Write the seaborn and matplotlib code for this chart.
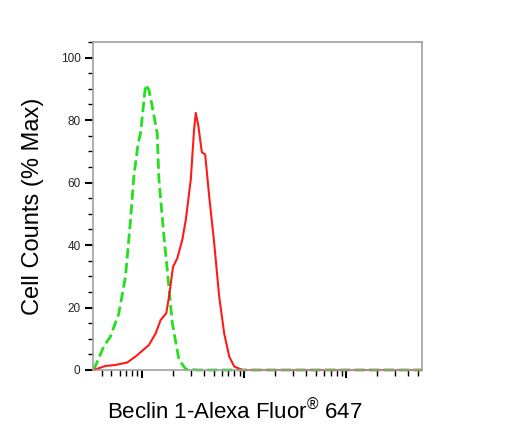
import matplotlib
matplotlib.use("Agg")
import numpy as np
import pandas as pd
import matplotlib.pyplot as plt
import seaborn as sns
from matplotlib.ticker import LogLocator, NullFormatter, MultipleLocator

# Control (isotype) histogram, green dashed
control_x = [335, 420, 489, 590, 687, 769, 829, 914, 964, 1080, 1164, 1254,
             1403, 1459, 1634, 1762, 1973, 2296, 2673, 3500, 550000]
control_y = [0, 7.5, 10.7, 18, 30, 48, 62, 72.6, 75.8, 91.3, 89.7, 84.4,
             75.8, 61, 42.7, 32, 15, 3.2, 0.3, 0, 0]

# Beclin 1 stained sample, red solid
sample_x = [335, 437, 547, 713, 861, 1039, 1164, 1355, 1517, 1722, 1832, 2005,
            2209, 2473, 2673, 2994, 3223, 3350, 3556, 3838, 4141, 4532, 5074,
            5680, 6358, 7121, 7976, 9620, 550000]
sample_y = [0, 1.3, 1.6, 2.4, 4.3, 6.6, 8, 11.7, 16, 18.2, 23.5, 33,
            35.8, 41.7, 48, 61, 77, 82.3, 78, 69.7, 69, 55.6, 40.6,
            23.5, 11.7, 4.3, 1.1, 0, 0]

control = pd.DataFrame({"x": control_x, "y": control_y})
sample = pd.DataFrame({"x": sample_x, "y": sample_y})

sns.set_theme(style="white")
plt.rcParams["font.family"] = ["Liberation Sans", "DejaVu Sans"]
plt.rcParams["mathtext.fontset"] = "custom"
plt.rcParams["mathtext.rm"] = "Liberation Sans"

fig = plt.figure(figsize=(5.2, 4.43), dpi=100)
ax = fig.add_axes([93 / 520, 73 / 443, 329 / 520, 328 / 443])

sns.lineplot(data=control, x="x", y="y", ax=ax, color="#22e01e", lw=2.0,
             linestyle="--", dashes=(5, 2.6), clip_on=False, sort=False)
sns.lineplot(data=sample, x="x", y="y", ax=ax, color="#ff1a1a", lw=1.5,
             clip_on=False, sort=False)

ax.set_xscale("log")
ax.set_xlim(330, 550000)
ax.set_ylim(0, 105)

ax.xaxis.set_major_locator(LogLocator(base=10, numticks=10))
ax.xaxis.set_minor_locator(LogLocator(base=10, subs=np.arange(2, 10), numticks=20))
ax.xaxis.set_major_formatter(NullFormatter())
ax.xaxis.set_minor_formatter(NullFormatter())
ax.yaxis.set_major_locator(MultipleLocator(20))
ax.yaxis.set_minor_locator(MultipleLocator(5))

ax.tick_params(axis="both", which="major", direction="out", length=6,
               width=1.5, color="black", labelsize=8.5, pad=3,
               bottom=True, left=True)
ax.tick_params(axis="both", which="minor", direction="out", length=3.5,
               width=1.0, color="black", bottom=True, left=True)
ax.tick_params(axis="x", which="minor", length=4)

for side in ["top", "right", "left", "bottom"]:
    ax.spines[side].set_visible(True)
    ax.spines[side].set_color("#a0a0a0")
    ax.spines[side].set_linewidth(1.2)

ax.set_ylabel("Cell Counts (% Max)", fontsize=17, color="black", labelpad=12)
ax.set_xlabel("")
fig.text(235 / 520, 1 - 412 / 443, r"Beclin 1-Alexa Fluor$^{\circledR}$ 647",
         fontsize=16, color="black", ha="center", va="center")

fig.savefig("out.png", dpi=100)
plt.close(fig)
